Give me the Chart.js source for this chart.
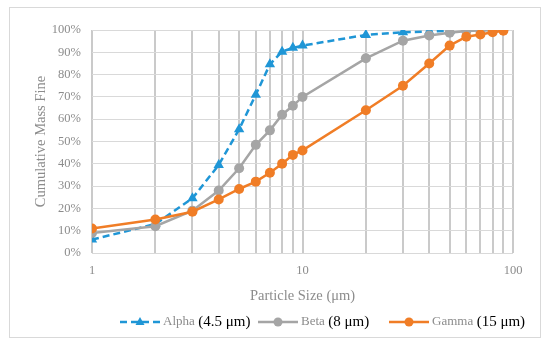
<!DOCTYPE html>
<html>
<head>
<meta charset="utf-8">
<script src="https://cdn.jsdelivr.net/npm/chart.js@4.4.1/dist/chart.umd.min.js"></script>
<style>
  html, body { margin: 0; padding: 0; background: #fff; }
</style>
</head>
<body>
<canvas id="c" width="550" height="345"></canvas>
<script>
// particle sizes (um) and cumulative mass fine (%)
const sizesAlpha = [1, 2, 3, 4, 5, 6, 7, 8, 9, 10, 20, 30, 40, 50];
const alphaFine = [6, 13, 24.5, 39.5, 55.5, 71, 84.6, 90.3, 92, 93, 97.8, 99, 99.3, 99.6];
const sizesBetaGamma = [1, 2, 3, 4, 5, 6, 7, 8, 9, 10, 20, 30, 40, 50, 60, 70, 80, 90];
const betaFine = [9, 12, 19, 28, 38, 48.5, 55, 62, 66, 70, 87.3, 95.2, 97.5, 98.8, 99.6, 99.8, 99.9, 100];
const gammaFine = [11, 15, 18.5, 24, 28.7, 32, 36, 40, 44, 46, 64, 75, 85, 93, 97, 98, 99, 99.7];

const seriesNames = ['Alpha', 'Beta', 'Gamma'];
const seriesSizes = ['(4.5 μm)', '(8 μm)', '(15 μm)'];
const xGridValues = [1, 2, 3, 4, 5, 6, 7, 8, 9, 10, 20, 30, 40, 50, 60, 70, 80, 90, 100];
const xTickLabels = [1, 10, 100];

const serif = '"Liberation Serif", "Times New Roman", serif';
Chart.defaults.font.family = serif;

function pts(xs, ys) {
  return xs.map((x, i) => ({ x: x, y: ys[i] }));
}

// outer light frame
const framePlugin = {
  id: 'frame',
  beforeDraw(chart) {
    const ctx = chart.ctx;
    ctx.save();
    ctx.strokeStyle = '#d9d9d9';
    ctx.lineWidth = 1;
    ctx.strokeRect(9.5, 7.5, 531, 330);
    ctx.restore();
  }
};

// legend with grey name + black size in brackets
const legendPlugin = {
  id: 'mixLegend',
  afterDraw(chart) {
    const ctx = chart.ctx;
    const y = 322;
    const starts = [120, 258, 389];
    chart.data.datasets.forEach((ds, i) => {
      const x0 = starts[i];
      ctx.save();
      ctx.strokeStyle = ds.borderColor;
      ctx.fillStyle = ds.borderColor;
      ctx.lineWidth = 2.5;
      ctx.setLineDash(ds.borderDash || []);
      ctx.beginPath();
      ctx.moveTo(x0, y);
      ctx.lineTo(x0 + 40, y);
      ctx.stroke();
      ctx.setLineDash([]);
      const cx = x0 + 20;
      ctx.beginPath();
      if (ds.pointStyle === 'triangle') {
        ctx.moveTo(cx, y - 5);
        ctx.lineTo(cx + 4.5, y + 3);
        ctx.lineTo(cx - 4.5, y + 3);
        ctx.closePath();
      } else {
        ctx.arc(cx, y, 4.5, 0, Math.PI * 2);
      }
      ctx.fill();

      ctx.textBaseline = 'middle';
      ctx.font = '13px ' + serif;
      ctx.fillStyle = '#8c8c8c';
      ctx.fillText(seriesNames[i], x0 + 43, y);
      const w = ctx.measureText(seriesNames[i]).width;
      ctx.font = '15px ' + serif;
      ctx.fillStyle = '#000';
      ctx.fillText(seriesSizes[i], x0 + 43 + w + 3.5, y + 0.5);
      ctx.restore();
    });
  }
};

new Chart(document.getElementById('c'), {
  type: 'line',
  data: {
    datasets: [
      {
        label: seriesNames[0],
        data: pts(sizesAlpha, alphaFine),
        borderColor: '#1f96d6',
        backgroundColor: '#1f96d6',
        borderWidth: 2.5,
        borderDash: [7, 4],
        pointStyle: 'triangle',
        pointRadius: 6,
        pointBorderWidth: 0,
        order: 2
      },
      {
        label: seriesNames[1],
        data: pts(sizesBetaGamma, betaFine),
        borderColor: '#a5a5a5',
        backgroundColor: '#a5a5a5',
        borderWidth: 2.5,
        pointStyle: 'circle',
        pointRadius: 5,
        pointBorderWidth: 0,
        order: 1
      },
      {
        label: seriesNames[2],
        data: pts(sizesBetaGamma, gammaFine),
        borderColor: '#f07d26',
        backgroundColor: '#f07d26',
        borderWidth: 2.5,
        pointStyle: 'circle',
        pointRadius: 5,
        pointBorderWidth: 0,
        order: 0
      }
    ]
  },
  options: {
    responsive: false,
    animation: false,
    layout: { padding: { left: 32, right: 37, top: 30, bottom: 40 } },
    plugins: {
      legend: { display: false },
      tooltip: { enabled: false }
    },
    scales: {
      x: {
        type: 'logarithmic',
        min: 1,
        max: 100,
        afterBuildTicks: s => { s.ticks = xGridValues.map(v => ({ value: v })); },
        afterFit: s => { s.height = 52; },
        border: { display: false },
        grid: { color: '#cacaca', lineWidth: 2, drawTicks: false },
        ticks: {
          autoSkip: false,
          maxRotation: 0,
          padding: 10,
          color: '#8c8c8c',
          font: { size: 12.5 },
          callback: v => xTickLabels.includes(v) ? String(v) : ''
        },
        title: {
          display: true,
          text: 'Particle Size (μm)',
          color: '#8c8c8c',
          font: { size: 14.5 },
          padding: 0
        }
      },
      y: {
        min: 0,
        max: 100,
        afterFit: s => { s.width = 60; },
        border: { display: false },
        grid: { color: '#d9d9d9', lineWidth: 1, drawTicks: false },
        ticks: {
          stepSize: 10,
          padding: 11,
          color: '#8c8c8c',
          font: { size: 12.5 },
          callback: v => v + '%'
        },
        title: {
          display: true,
          text: 'Cumulative Mass Fine',
          color: '#8c8c8c',
          font: { size: 14.5 },
          padding: 0
        }
      }
    }
  },
  plugins: [framePlugin, legendPlugin]
});
</script>
</body>
</html>
